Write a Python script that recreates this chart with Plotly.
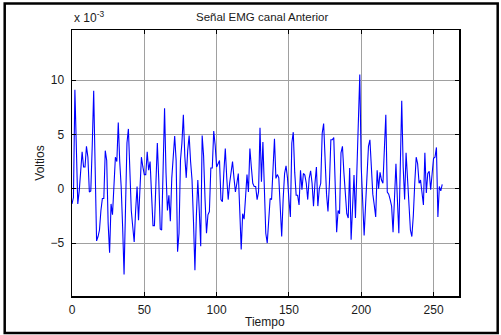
import plotly.graph_objects as go

# Señal EMG (valores en unidades de 1e-3 V), muestras 0..256
tiempo = list(range(0, 257))
voltios_e3 = [
    -1.4, -0.8, 9.1, 3.5, -1.4, -0.2, 1.5, 3.4, 2.0, 2.0,
    3.9, 2.9, -0.3, -0.2, 4.0, 9.0, 2.0, -4.8, -4.4, -3.8,
    -2.0, -0.9, -0.9, 3.5, 2.6, -3.2, -5.9, -1.4, -2.4, 0.5,
    2.9, 2.5, 6.1, 2.5, 0.2, -3.5, -7.9, -1.8, 4.2, 5.5,
    1.0, -2.0, -3.5, -4.9, -2.0, 0.2, -2.9, -0.5, 2.9, 2.0,
    1.3, 1.3, 3.4, 1.7, 2.5, -0.5, -3.4, -3.4, 0.5, 4.2,
    0.8, -3.7, -3.8, 1.8, 7.4, 1.5, -2.0, -0.6, -3.0, 1.0,
    3.5, 4.85, 2.6, -5.8, -4.1, 2.6, 4.2, 6.8, 3.0, 1.0,
    3.5, 4.9, 2.5, 0.8, -3.0, -7.5, -2.5, 0.8, -2.0, -5.3,
    4.9, 3.0, -1.0, -4.1, -2.4, -2.1, 1.9, 1.9, 5.3, 4.0,
    2.0, 2.3, 2.6, -1.0, -1.2, 1.5, 3.7, 1.0, -1.0, 0.5,
    1.7, 2.5, 1.0, -0.3, 0.5, 1.4, -2.0, -5.6, -2.3, -2.8,
    -0.8, 1.3, -0.3, 3.7, 2.0, 0.5, 0.2, 0.2, -1.0, -0.3,
    5.6, 0.65, 4.3, 0.0, -4.1, -5.0, -2.5, -0.9, -1.0, 2.0,
    4.6, 0.95, 1.3, 1.0, -1.5, -4.4, -1.0, 1.4, 2.1, 1.0,
    -1.0, -2.6, 4.2, 5.2, 1.5, -0.6, -0.6, -1.5, 1.7, -0.1,
    1.4, 1.25, 0.5, -1.0, 0.95, 1.65, 0.5, -1.6, 0.5, 2.0,
    -1.6, 0.0, 0.5, 5.1, 6.0, 2.5, -0.5, -2.1, 0.5, 4.5,
    4.5, 4.7, 0.5, -4.0, -2.0, -2.3, 3.3, 3.9, 1.5, -0.5,
    -2.3, -2.7, 1.9, -4.7, -1.5, 1.25, -2.7, 2.0, 6.5, 10.5,
    2.0, -1.0, -4.3, -1.5, 1.25, 3.9, 4.5, 2.0, -0.5, -1.5,
    -2.6, 1.7, 0.0, 1.5, 0.8, 0.5, 3.5, 6.8, -0.3, -0.5,
    -1.0, -1.6, -4.0, 0.0, 2.3, -1.0, -4.1, 2.0, 8.1, 2.0,
    -1.0, 3.3, 1.0, -2.0, -3.8, -4.4, -2.5, 0.5, 2.9, 2.3,
    0.5, 0.8, -0.4, -1.5, 3.3, -0.4, 1.4, 1.6, -0.1, 1.3,
    2.8, 2.9, 3.8, -2.6, 0.2, -0.2, 0.4,
]

titulo = "Señal EMG canal Anterior"
etiqueta_x = "Tiempo"
etiqueta_y = "Voltios"
xticks = [0, 50, 100, 150, 200, 250]
yticks = [-5, 0, 5, 10]

W, H = 501, 335
L, R, T, B = 72.3, 459.3, 30, 296


def px(x):
    return (x - L) / (R - L)


def py(y):
    return (B - y) / (B - T)


FONT = "Liberation Sans, Arial, sans-serif"

fig = go.Figure()
fig.add_trace(go.Scatter(
    x=tiempo, y=voltios_e3, mode="lines",
    line=dict(color="#0000ff", width=1.1),
    showlegend=False, hoverinfo="skip",
))

axis_common = dict(
    showline=True, linecolor="black", linewidth=1.5, mirror="ticks",
    ticks="inside", ticklen=4, tickcolor="black", tickwidth=1,
    showgrid=True, gridcolor="#a0a0a0", gridwidth=1,
    zeroline=False, tickfont=dict(family=FONT, size=12, color="#1a1a1a"),
)

fig.update_layout(
    width=W, height=H,
    margin=dict(l=L, r=W - R, t=T, b=H - B, pad=0),
    paper_bgcolor="white", plot_bgcolor="white",
    xaxis=dict(range=[0, 267.6], tickvals=xticks, ticklabelstandoff=2, **axis_common),
    yaxis=dict(range=[-9.87, 14.6], tickvals=yticks, ticklabelstandoff=4, **axis_common),
    font=dict(family=FONT, size=12, color="#1a1a1a"),
    shapes=[dict(
        type="rect", xref="paper", yref="paper",
        x0=px(5), x1=px(498), y0=py(333), y1=py(3.5),
        line=dict(color="black", width=2.5), fillcolor="rgba(0,0,0,0)",
    )],
    annotations=[
        dict(text=titulo, xref="paper", yref="paper", x=px(262), y=py(17),
             xanchor="center", yanchor="middle", showarrow=False,
             font=dict(family=FONT, size=11.5, color="#1a1a1a")),
        dict(text=etiqueta_x, xref="paper", yref="paper", x=px(265.5), y=py(322),
             xanchor="center", yanchor="middle", showarrow=False,
             font=dict(family=FONT, size=12, color="#1a1a1a")),
        dict(text=etiqueta_y, xref="paper", yref="paper", x=px(40), y=py(163),
             xanchor="center", yanchor="middle", textangle=-90, showarrow=False,
             font=dict(family=FONT, size=12, color="#1a1a1a")),
        dict(text="x 10<sup>-3</sup>", xref="paper", yref="paper", x=px(72), y=py(17),
             xanchor="left", yanchor="middle", showarrow=False,
             font=dict(family=FONT, size=12, color="#1a1a1a")),
    ],
)

fig.write_html(
    "out.html",
    config={"displayModeBar": False, "staticPlot": True},
    post_script="document.body.style.margin='0';document.body.style.overflow='hidden';",
)
